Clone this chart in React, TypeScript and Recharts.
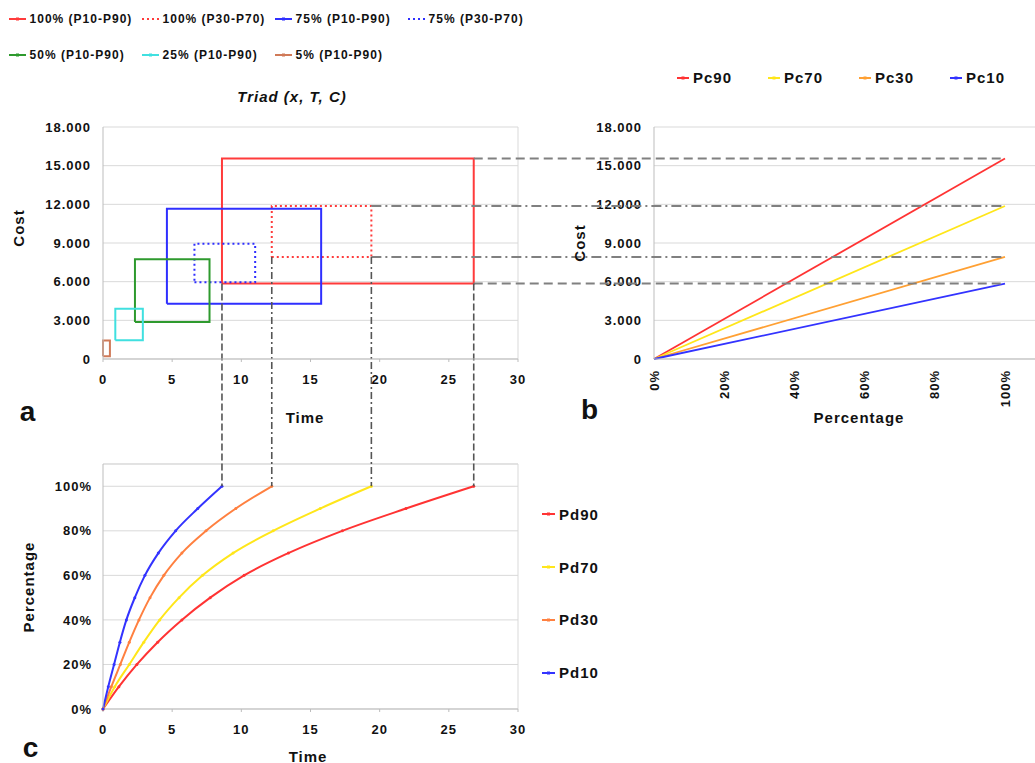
import React from 'react';
import { LineChart, Line, XAxis, YAxis, CartesianGrid, ReferenceLine, Legend } from 'recharts';

const FONT = '"Liberation Sans", Arial, Helvetica, sans-serif';
const W = 1035;
const H = 763;

// ---------- Panel a : Triad (x, T, C) ----------
const timeTicks = [0, 5, 10, 15, 20, 25, 30];
const costTicks = [0, 3000, 6000, 9000, 12000, 15000, 18000];
const rectNames = ['100% (P10-P90)', '100% (P30-P70)', '75% (P10-P90)', '75% (P30-P70)', '50% (P10-P90)', '25% (P10-P90)', '5% (P10-P90)'];
const rectColors = ['#ff3b3b', '#ff3b3b', '#2f2fff', '#2f2fff', '#2e9a2e', '#40e0e0', '#d07a58'];
const rectDotted = [false, true, false, true, false, false, false];
const rectTimeMin = [8.6, 12.2, 4.62, 6.61, 2.31, 0.89, 0];
const rectTimeMax = [26.8, 19.4, 15.77, 11.0, 7.7, 2.88, 0.5];
const rectCostMin = [5850, 7920, 4290, 5950, 2880, 1460, 210];
const rectCostMax = [15550, 11870, 11660, 8940, 7740, 3900, 1430];

// connector lines (a -> b horizontally, a -> c vertically)
const hConnCost = [15550, 11870, 7920, 5850];
const hConnFromT = [26.8, 19.4, 19.4, 26.8];
const hConnDash = ['9 5', '10 4 2 4', '10 4 2 4', '9 5'];
const vConnT = [8.6, 12.2, 19.4, 26.8];
const vConnFromCost = [5850, 7920, 7920, 5850];
const vConnDash = ['7 3', '7 3 2 3', '7 3 2 3', '7 3'];

// ---------- Panel b : cost vs percentage ----------
const pcNames = ['Pc90', 'Pc70', 'Pc30', 'Pc10'];
const pcColors = ['#ff3333', '#ffe61a', '#ffa033', '#3333ff'];
const pcAt100 = [15550, 11870, 7920, 5850];
const pctTicksB = [0, 0.2, 0.4, 0.6, 0.8, 1];

// ---------- Panel c : percentage vs time ----------
const pdNames = ['Pd90', 'Pd70', 'Pd30', 'Pd10'];
const pdColors = ['#ff3333', '#ffe61a', '#ff8040', '#3333ff'];
const pctLevels = [0, 0.1, 0.2, 0.3, 0.4, 0.5, 0.6, 0.7, 0.8, 0.9, 1.0];
const pd90Time = [0, 1.15, 2.45, 3.95, 5.7, 7.75, 10.2, 13.4, 17.3, 21.9, 26.8];
const pd70Time = [0, 0.85, 1.9, 2.95, 4.1, 5.5, 7.2, 9.4, 12.3, 15.7, 19.4];
const pd30Time = [0, 0.6, 1.25, 1.9, 2.6, 3.4, 4.4, 5.7, 7.45, 9.6, 12.2];
const pd10Time = [0, 0.38, 0.8, 1.22, 1.69, 2.3, 3.03, 4.0, 5.25, 6.85, 8.6];
const pdTimes = [pd90Time, pd70Time, pd30Time, pd10Time];
const pctTicksC = [0, 0.2, 0.4, 0.6, 0.8, 1];

// ---------- layout ----------
const A_LEFT = 103, A_RIGHT = 518, A_TOP = 127, A_BOTTOM = 359;
const B_LEFT = 654, B_X100 = 1005, B_RIGHT = 1035, B_TOP = 127, B_BOTTOM = 359;
const C_LEFT = 103, C_RIGHT = 518, C_TOP = 464, C_BOTTOM = 709, C_YMAX = 1.1;

const aUnitsX = (px: number) => ((px - A_LEFT) / (A_RIGHT - A_LEFT)) * 30;
const aUnitsY = (py: number) => ((A_BOTTOM - py) / (A_BOTTOM - A_TOP)) * 18000;
const cY100 = C_BOTTOM - (C_BOTTOM - C_TOP) / C_YMAX;
const hConnEndT = aUnitsX(B_X100);
const vConnEndCost = aUnitsY(cY100);

const GRID = '#d9d9d9';
const AXIS = '#bdbdbd';
const tickStyle = { fill: '#111', fontSize: 13, fontWeight: 'bold' as const, fontFamily: FONT };

const costFmt = (v: number) => (v === 0 ? '0' : (v / 1000).toFixed(3));
const pctFmt = (v: number) => `${Math.round(v * 100)}%`;

const rectData = rectNames.map((_, i) => [
  { t: rectTimeMin[i], c: rectCostMin[i] },
  { t: rectTimeMax[i], c: rectCostMin[i] },
  { t: rectTimeMax[i], c: rectCostMax[i] },
  { t: rectTimeMin[i], c: rectCostMax[i] },
  { t: rectTimeMin[i], c: rectCostMin[i] },
]);
const pcData = pcNames.map((_, i) => [
  { p: 0, v: 0 },
  { p: 1, v: pcAt100[i] },
]);
const pdData = pdNames.map((_, i) => pctLevels.map((p, k) => ({ t: pdTimes[i][k], p })));

const LegendIcon = ({ color, dashed, w }: { color: string; dashed?: boolean; w: number }) => (
  <svg width={w} height={10} style={{ display: 'block', flex: 'none' }}>
    <line x1={0} y1={5} x2={w} y2={5} stroke={color} strokeWidth={2} strokeDasharray={dashed ? '2 3' : undefined} />
    {!dashed && <rect x={w / 2 - 1.5} y={3.5} width={3} height={3} fill={color} />}
  </svg>
);

const legendText = (size: number): React.CSSProperties => ({
  fontFamily: FONT,
  fontWeight: 'bold',
  fontSize: size,
  letterSpacing: 1,
  color: '#111',
  whiteSpace: 'nowrap',
  lineHeight: 1,
});

const renderALegend = (props: any) => {
  const payload = props.payload || [];
  return (
    <div style={{ position: 'relative', width: 540, height: 75 }}>
      {payload.map((e: any) => {
        const idx = rectNames.indexOf(e.value);
        const col = idx < 4 ? idx : idx - 4;
        const row = idx < 4 ? 0 : 1;
        return (
          <div
            key={e.value}
            style={{ position: 'absolute', left: 8.6 + col * 133, top: (row ? 54.5 : 18.5) - 8, height: 16, display: 'flex', alignItems: 'center', gap: 4 }}
          >
            <LegendIcon color={rectColors[idx]} dashed={rectDotted[idx]} w={17} />
            <span style={legendText(12)}>{e.value}</span>
          </div>
        );
      })}
    </div>
  );
};

const renderBLegend = (props: any) => {
  const payload = props.payload || [];
  return (
    <div style={{ position: 'relative', width: W, height: 100 }}>
      {payload.map((e: any) => {
        const idx = pcNames.indexOf(e.value);
        return (
          <div key={e.value} style={{ position: 'absolute', left: 677 + idx * 91, top: 77.7 - 9, height: 18, display: 'flex', alignItems: 'center', gap: 4 }}>
            <LegendIcon color={pcColors[idx]} w={12} />
            <span style={legendText(15)}>{e.value}</span>
          </div>
        );
      })}
    </div>
  );
};

const renderCLegend = (props: any) => {
  const payload = props.payload || [];
  return (
    <div style={{ position: 'relative', width: W, height: H }}>
      {payload.map((e: any) => {
        const idx = pdNames.indexOf(e.value);
        return (
          <div key={e.value} style={{ position: 'absolute', left: 542, top: 514.3 + idx * 52.8 - 9, height: 18, display: 'flex', alignItems: 'center', gap: 4 }}>
            <LegendIcon color={pdColors[idx]} w={13} />
            <span style={legendText(15)}>{e.value}</span>
          </div>
        );
      })}
    </div>
  );
};

const BTick = (props: any) => {
  const { x, y, payload } = props;
  const yy = y + 3;
  return (
    <text
      x={x}
      y={yy}
      transform={`rotate(-90 ${x} ${yy})`}
      textAnchor="end"
      dominantBaseline="central"
      style={{ fill: '#111', fontSize: 13, fontWeight: 'bold', fontFamily: FONT, letterSpacing: 1 }}
    >
      {pctFmt(payload.value)}
    </text>
  );
};

const TextAt = ({ x, y, children, size = 15, rotate = false, italic = false }: any) => (
  <div
    style={{
      position: 'absolute',
      left: x,
      top: y,
      transform: `translate(-50%, -50%)${rotate ? ' rotate(-90deg)' : ''}`,
      fontFamily: FONT,
      fontWeight: 'bold',
      fontStyle: italic ? 'italic' : 'normal',
      fontSize: size,
      letterSpacing: 1,
      color: '#111',
      whiteSpace: 'nowrap',
      lineHeight: size > 20 ? 0.85 : 1,
    }}
  >
    {children}
  </div>
);

const layer: React.CSSProperties = { position: 'absolute', left: 0, top: 0, width: W, height: H };

export default function App() {
  return (
    <div style={{ position: 'absolute', left: 0, top: 0, width: W, height: H, background: '#fff', overflow: 'hidden' }}>
      <style>{`.recharts-cartesian-axis-tick-value{letter-spacing:1px}`}</style>

      {/* Panel b */}
      <div style={layer}>
        <LineChart width={W} height={H} margin={{ top: B_TOP, left: B_LEFT - 70, right: W - B_RIGHT, bottom: H - B_BOTTOM - 50 }}>
          <CartesianGrid vertical={false} stroke={GRID} />
          <XAxis
            type="number"
            dataKey="p"
            domain={[0, (B_RIGHT - B_LEFT) / (B_X100 - B_LEFT)]}
            ticks={pctTicksB}
            interval={0}
            height={50}
            tickLine={false}
            axisLine={{ stroke: AXIS }}
            tick={<BTick />}
          />
          <YAxis
            type="number"
            domain={[0, 18000]}
            ticks={costTicks}
            interval={0}
            width={70}
            tickFormatter={costFmt}
            tickLine={false}
            tickSize={4}
            tickMargin={8}
            axisLine={{ stroke: AXIS }}
            tick={tickStyle}
          />
          {pcNames.map((n, i) => (
            <Line key={n} name={n} data={pcData[i]} dataKey="v" stroke={pcColors[i]} strokeWidth={1.8} dot={false} isAnimationActive={false} />
          ))}
          <Legend layout="horizontal" align="center" verticalAlign="middle" wrapperStyle={{ left: 0, top: 0, width: W, height: 100 }} content={renderBLegend} />
        </LineChart>
      </div>

      {/* Panel c */}
      <div style={layer}>
        <LineChart width={W} height={H} margin={{ top: C_TOP, left: C_LEFT - 60, right: W - C_RIGHT, bottom: H - C_BOTTOM - 30 }}>
          <CartesianGrid vertical={false} stroke={GRID} />
          <XAxis
            type="number"
            dataKey="t"
            domain={[0, 30]}
            ticks={timeTicks}
            interval={0}
            height={30}
            tickSize={3}
            tickMargin={13}
            tickLine={{ stroke: AXIS }}
            axisLine={{ stroke: AXIS }}
            tick={tickStyle}
          />
          <YAxis
            type="number"
            domain={[0, C_YMAX]}
            ticks={pctTicksC}
            interval={0}
            width={60}
            tickFormatter={pctFmt}
            tickLine={false}
            tickSize={4}
            tickMargin={7}
            axisLine={{ stroke: AXIS }}
            tick={tickStyle}
          />
          <ReferenceLine x={30} stroke={GRID} />
          <ReferenceLine y={C_YMAX} stroke={GRID} />
          {pdNames.map((n, i) => (
            <Line
              key={n}
              name={n}
              data={pdData[i]}
              dataKey="p"
              type="monotone"
              stroke={pdColors[i]}
              strokeWidth={2}
              dot={{ r: 1.5, fill: pdColors[i], stroke: pdColors[i], strokeWidth: 0 }}
              isAnimationActive={false}
            />
          ))}
          <Legend layout="horizontal" align="center" verticalAlign="middle" wrapperStyle={{ left: 0, top: 0, width: W, height: H }} content={renderCLegend} />
        </LineChart>
      </div>

      {/* Panel a (with connectors) */}
      <div style={layer}>
        <LineChart width={W} height={H} margin={{ top: A_TOP, left: A_LEFT - 60, right: W - A_RIGHT, bottom: H - A_BOTTOM - 30 }}>
          <CartesianGrid vertical={false} stroke={GRID} />
          <XAxis
            type="number"
            dataKey="t"
            domain={[0, 30]}
            ticks={timeTicks}
            interval={0}
            height={30}
            tickSize={3}
            tickMargin={13}
            tickLine={{ stroke: AXIS }}
            axisLine={{ stroke: AXIS }}
            tick={tickStyle}
          />
          <YAxis
            type="number"
            domain={[0, 18000]}
            ticks={costTicks}
            interval={0}
            width={60}
            tickFormatter={costFmt}
            tickLine={false}
            tickSize={4}
            tickMargin={8}
            axisLine={{ stroke: AXIS }}
            tick={tickStyle}
          />
          <ReferenceLine x={30} stroke={GRID} />
          {rectNames.map((n, i) => (
            <Line
              key={n}
              name={n}
              data={rectData[i]}
              dataKey="c"
              type="linear"
              stroke={rectColors[i]}
              strokeWidth={2}
              strokeDasharray={rectDotted[i] ? '2 3' : undefined}
              dot={false}
              isAnimationActive={false}
            />
          ))}
          {hConnCost.map((c, i) => (
            <ReferenceLine
              key={`h${i}`}
              segment={[{ x: hConnFromT[i], y: c }, { x: hConnEndT, y: c }]}
              ifOverflow="visible"
              stroke="#808080"
              strokeWidth={2}
              strokeDasharray={hConnDash[i]}
            />
          ))}
          {vConnT.map((t, i) => (
            <ReferenceLine
              key={`v${i}`}
              segment={[{ x: t, y: vConnFromCost[i] }, { x: t, y: vConnEndCost }]}
              ifOverflow="visible"
              stroke="#555"
              strokeWidth={1.6}
              strokeDasharray={vConnDash[i]}
            />
          ))}
          <Legend layout="horizontal" align="center" verticalAlign="middle" wrapperStyle={{ left: 0, top: 0, width: 540, height: 75 }} content={renderALegend} />
        </LineChart>
      </div>

      {/* titles and labels */}
      <TextAt x={292} y={96} italic>Triad (x, T, C)</TextAt>
      <TextAt x={18} y={228} rotate>Cost</TextAt>
      <TextAt x={305} y={417}>Time</TextAt>
      <TextAt x={28} y={412} size={28}>a</TextAt>
      <TextAt x={579} y={243} rotate>Cost</TextAt>
      <TextAt x={859} y={417}>Percentage</TextAt>
      <TextAt x={590} y={410} size={28}>b</TextAt>
      <TextAt x={28} y={587} rotate>Percentage</TextAt>
      <TextAt x={308} y={756}>Time</TextAt>
      <TextAt x={31} y={748} size={28}>c</TextAt>
    </div>
  );
}
